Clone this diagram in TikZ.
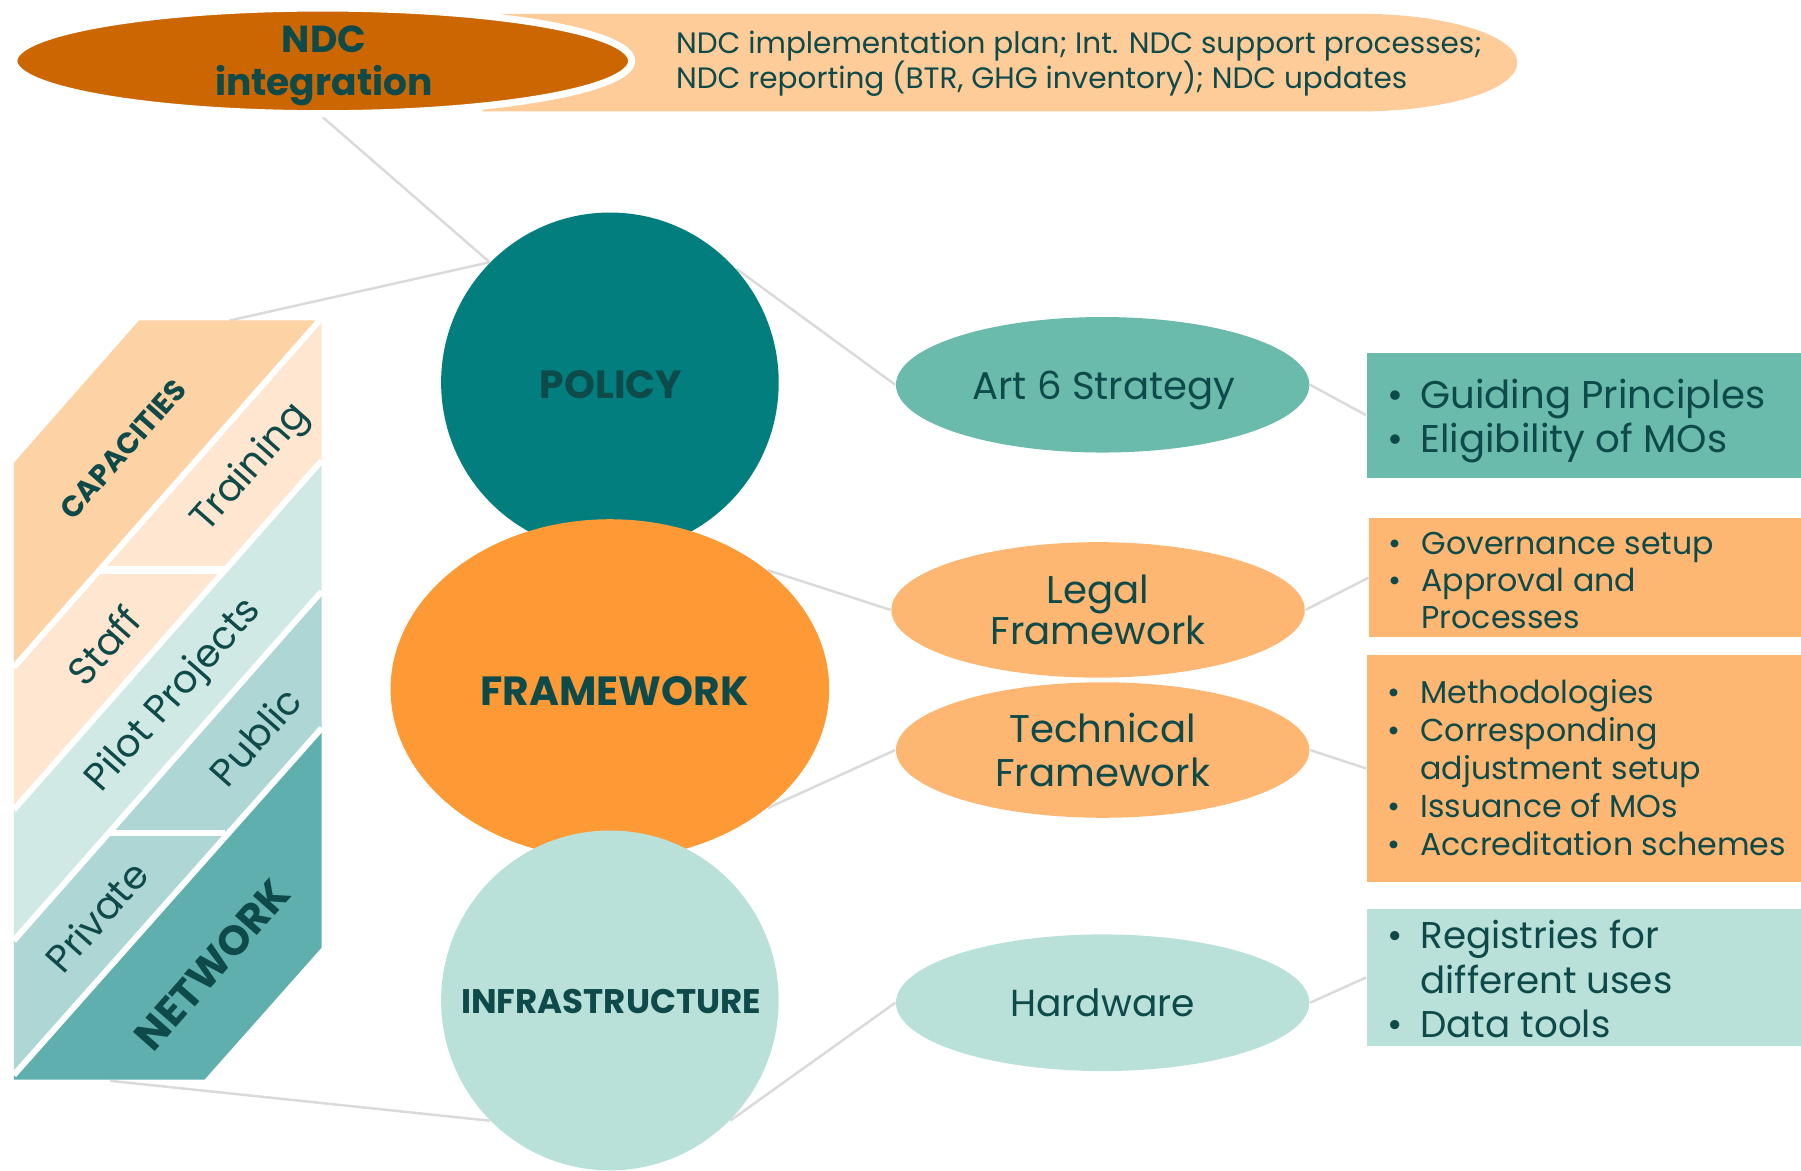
\documentclass[tikz,border=0pt]{standalone}
\usepackage{fontspec}
\setmainfont{Poppins}
\usetikzlibrary{shapes.geometric,fit,backgrounds}
\definecolor{txt}{HTML}{0E4A4A}
\definecolor{lineg}{HTML}{DADADA}
\definecolor{ndcc}{HTML}{CC6600}
\definecolor{bandc}{HTML}{FECC99}
\definecolor{polc}{HTML}{017E7D}
\definecolor{frmc}{HTML}{FD9A36}
\definecolor{infc}{HTML}{B9E0D9}
\definecolor{artc}{HTML}{6ABBAC}
\definecolor{orlc}{HTML}{FDB772}
\definecolor{capc}{HTML}{FDD2A4}
\definecolor{stfc}{HTML}{FEE6D0}
\definecolor{pilc}{HTML}{D0E9E5}
\definecolor{pubc}{HTML}{ADD6D4}
\definecolor{netc}{HTML}{60AFAF}
\newcommand{\bu}{\makebox[9.5pt][l]{\textbullet}}
\newcommand{\fsz}[2]{\fontsize{#1}{#2}\selectfont}
\begin{document}
\begin{tikzpicture}[x=0.011486cm,y=0.011486cm,
  conn/.style={draw=lineg, line width=0.7pt},
  ell/.style={ellipse, inner sep=0pt, text=txt, align=center},
  dims/.style 2 args={minimum width={#1*0.32681pt}, minimum height={#2*0.32681pt}},
  boxr/.style={inner sep=0pt, draw=none},
  blk/.style={text=txt, rotate=48.6, inner sep=0pt},
  lst/.style={anchor=west, inner sep=0pt, text=txt},
  lbl/.style={inner sep=0pt, text=txt, align=center},
  sep/.style={draw=white, line width=1.7pt}]
\useasboundingbox (0,0) rectangle (1568,-1019);

% ---------- top band ----------
\path[fill=bandc] (420,-12) -- (1184,-12) arc[start angle=90, end angle=-90, x radius=137, y radius=42.5] -- (420,-97) -- cycle;
\node[ell, dims={538}{92}, fill=ndcc, draw=white, line width=2pt] (ndc) at (281,-53) {};
\node[lbl, font=\bfseries\fsz{10.7}{12.2}] (ndclbl) at (282,-57) {NDC\\integration};
\node[lst, align=left, font=\fsz{8.4}{10.2}] (bandtxt) at (588,-55.5) {NDC implementation plan; Int. NDC support processes;\\NDC reporting (BTR, GHG inventory); NDC updates};

% ---------- left block ----------
\fill[capc] (12,-403) -- (121,-279) -- (278,-279) -- (12,-581) -- cycle;
\fill[stfc] (12,-581) -- (278,-279) -- (280,-279) -- (280,-401) -- (12,-705) -- cycle;
\fill[pilc] (12,-705) -- (280,-401) -- (280,-515) -- (12,-819) -- cycle;
\fill[pubc] (12,-819) -- (280,-515) -- (280,-634) -- (12,-936) -- cycle;
\fill[netc] (12,-936) -- (280,-634) -- (280,-825) -- (178,-940) -- (12,-940) -- cycle;
\draw[sep] (12,-581) -- (280,-277);
\draw[sep] (12,-705) -- (280,-401);
\draw[sep] (12,-819) -- (280,-515);
\draw[sep] (12,-936) -- (280,-634);
\draw[draw=white, line width=2.4pt] (86.5,-496.5) -- (195.9,-496.5);
\draw[draw=white, line width=1.6pt] (94.9,-725) -- (196.3,-725);
\coordinate (blocktop) at (200,-279);
\coordinate (blockbot) at (96,-941);

\node[blk, font=\bfseries\fsz{8.3}{9}] (cap) at (107,-391) {CAPACITIES};
\node[blk, font=\fsz{11}{13}] (trn) at (219,-408) {Training};
\node[blk, font=\fsz{11}{13}] (stf) at (90,-562) {Staff};
\node[blk, font=\fsz{11}{13}] (pil) at (152,-606) {Pilot Projects};
\node[blk, font=\fsz{11}{13}] (pub) at (222,-641) {Public};
\node[blk, font=\fsz{11}{13}] (prv) at (84,-798) {Private};
\node[blk, font=\bfseries\fsz{11.8}{13}] (net) at (185,-840) {NETWORK};

% ---------- central circles ----------
\node[ell, dims={294}{296}, fill=polc] (policy) at (531,-333) {};
\node[lbl, font=\bfseries\fsz{11.2}{12}] (pollbl) at (532,-335) {POLICY};
\node[ell, dims={382}{296}, fill=frmc] (framework) at (531,-600) {};
\node[lbl, font=\bfseries\fsz{11.6}{12}] (frmlbl) at (535,-602) {FRAMEWORK};
\node[ell, dims={294}{296}, fill=infc] (infra) at (531,-871) {};
\node[lbl, font=\bfseries\fsz{9.7}{10}] (inflbl) at (532,-872) {INFRASTRUCTURE};

% ---------- second level ellipses ----------
\node[ell, dims={360}{118}, fill=artc] (art6) at (960,-335) {};
\node[lbl, font=\fsz{11}{13}] (art6lbl) at (961,-340) {Art 6 Strategy};
\node[ell, dims={360}{118}, fill=orlc, font=\fsz{11}{11.8}] (legal) at (956,-531) {Legal\\Framework};
\node[ell, dims={360}{118}, fill=orlc, font=\fsz{11}{12.4}] (tech) at (960,-653) {Technical\\Framework};
\node[ell, dims={360}{119}, fill=infc, font=\fsz{10.7}{13}] (hard) at (960,-873) {Hardware};

% ---------- boxes ----------
\node[boxr, fill=artc, fit={(1190,-307) (1568,-416)}] (b1) {};
\node[boxr, fill=orlc, fit={(1192,-451) (1568,-555)}] (b2) {};
\node[boxr, fill=orlc, fit={(1190,-570) (1568,-768)}] (b3) {};
\node[boxr, fill=infc, fit={(1190,-791) (1568,-911)}] (b4) {};

\node[lst, font=\fsz{11}{12.4}] (t1) at (1207,-367) {\begin{tabular}{@{}l@{}l@{}}\bu & Guiding Principles\\ \bu & Eligibility of MOs\end{tabular}};
\node[lst, font=\fsz{9}{10.6}] (t2) at (1208,-508.5) {\begin{tabular}{@{}l@{}l@{}}\bu & Governance setup\\ \bu & Approval and\\ & Processes\end{tabular}};
\node[lst, font=\fsz{9}{10.8}] (t3) at (1207,-672) {\begin{tabular}{@{}l@{}l@{}}\bu & Methodologies\\ \bu & Corresponding\\ & adjustment setup\\ \bu & Issuance of MOs\\ \bu & Accreditation schemes\end{tabular}};
\node[lst, font=\fsz{10.6}{12.6}] (t4) at (1207,-857) {\begin{tabular}{@{}l@{}l@{}}\bu & Registries for\\ & different uses\\ \bu & Data tools\end{tabular}};

% ---------- connectors ----------
\begin{pgfonlayer}{background}
\draw[conn] (ndc.south) -- (policy.135);
\draw[conn] (blocktop) -- (policy.135);
\draw[conn] (policy.42) -- (art6.west);
\draw[conn] (art6.east) -- (b1.west);
\draw[conn] (framework.37) -- (legal.west);
\draw[conn] (legal.east) -- (b2.west);
\draw[conn] (framework.-37) -- (tech.west);
\draw[conn] (tech.east) -- (b3.west);
\draw[conn] (infra.-45) -- (hard.west);
\draw[conn] (hard.east) -- (b4.west);
\draw[conn] (blockbot) -- (infra.-135);
\end{pgfonlayer}
\end{tikzpicture}
\end{document}
